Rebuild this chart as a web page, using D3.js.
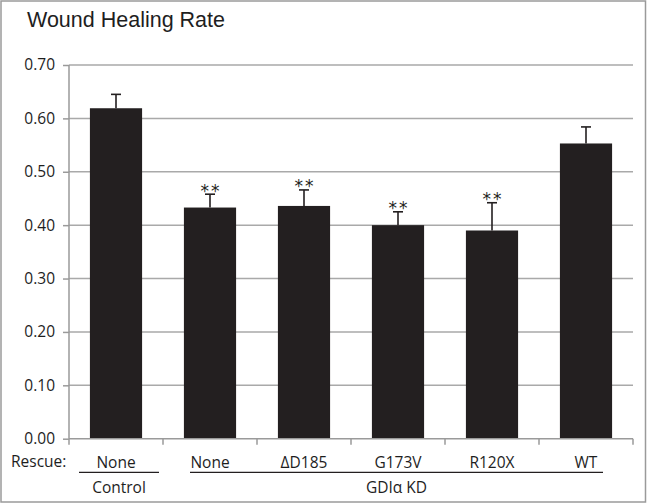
<!DOCTYPE html>
<html>
<head>
<meta charset="utf-8">
<script src="https://cdn.jsdelivr.net/npm/d3@7"></script>
<style>
  html, body { margin: 0; padding: 0; background: #fff; }
  svg { display: block; }
</style>
</head>
<body>
<svg id="chart" width="647" height="504"></svg>
<script>
// ---- data ----
const rescue = ["None", "None", "\u0394D185", "G173V", "R120X", "WT"];
const rates = [0.619, 0.433, 0.436, 0.400, 0.390, 0.553];
const errors = [0.026, 0.025, 0.030, 0.025, 0.052, 0.031];
const marks = ["", "**", "**", "**", "**", ""];
const groupLabels = ["Control", "GDI\u03b1 KD"];
const groupFirst = [0, 1];
const groupLast = [0, 5];
const yTicks = [0, 0.1, 0.2, 0.3, 0.4, 0.5, 0.6, 0.7];
const title = "Wound Healing Rate";
const rowLabel = "Rescue:";

// ---- layout ----
const W = 647, H = 504;
const plot = { left: 69, right: 633, top: 65, bottom: 438.7 };
const groupLineOffsets = [[-37, 43], [-20, 17]];
const labelFont = "'Open Sans', 'Liberation Sans', sans-serif";

const svg = d3.select("#chart");

// outer border
svg.append("rect")
  .attr("x", 1).attr("y", 1).attr("width", W - 2.5).attr("height", H - 3)
  .attr("fill", "#fff").attr("stroke", "#9a9a9a").attr("stroke-width", 1.5);

const x = d3.scaleBand().domain(d3.range(rescue.length))
  .range([plot.left, plot.right]).padding(0);
const barW = x.bandwidth() * 0.555;
const cx = i => x(i) + x.bandwidth() / 2;

const y = d3.scaleLinear().domain([0, 0.7]).range([plot.bottom, plot.top]);

// gridlines
svg.append("g").selectAll("line").data(yTicks.filter(d => d > 0)).join("line")
  .attr("x1", plot.left).attr("x2", plot.right)
  .attr("y1", d => y(d)).attr("y2", d => y(d))
  .attr("stroke", "#a9a9a9").attr("stroke-width", 1.5);

// y axis
const yAxis = d3.axisLeft(y).tickValues(yTicks).tickFormat(d3.format(".2f"))
  .tickSize(6).tickPadding(8);
const gy = svg.append("g").attr("transform", `translate(${plot.left},0)`).call(yAxis);
gy.select(".domain").attr("stroke", "#9a9a9a").attr("stroke-width", 1.5)
  .attr("d", `M0,${plot.top}V${plot.bottom}`);
gy.selectAll(".tick line").attr("stroke", "#9a9a9a").attr("stroke-width", 1.5);
gy.selectAll(".tick text").attr("font-family", labelFont).attr("font-size", 15.5)
  .attr("fill", "#1e1e1e");

// bars
svg.append("g").selectAll("rect").data(rates).join("rect")
  .attr("x", (d, i) => cx(i) - barW / 2)
  .attr("width", barW)
  .attr("y", d => y(d))
  .attr("height", d => y(0) - y(d))
  .attr("fill", "#231f20");

// error bars
const eb = svg.append("g").attr("stroke", "#231f20").attr("stroke-width", 1.6);
rates.forEach((v, i) => {
  eb.append("line").attr("x1", cx(i)).attr("x2", cx(i))
    .attr("y1", y(v)).attr("y2", y(v + errors[i]));
  eb.append("line").attr("x1", cx(i) - 5).attr("x2", cx(i) + 5)
    .attr("y1", y(v + errors[i])).attr("y2", y(v + errors[i]));
});

// significance marks
svg.append("g").selectAll("text").data(marks).join("text")
  .attr("x", (d, i) => cx(i) + 1)
  .attr("y", (d, i) => y(rates[i] + errors[i]) + 2.5)
  .attr("text-anchor", "middle")
  .attr("font-family", "'DejaVu Sans', sans-serif")
  .attr("font-size", 17)
  .attr("letter-spacing", 2)
  .attr("fill", "#231f20")
  .text(d => d);

// x axis
const xAxis = d3.axisBottom(x).tickValues([]).tickSize(0);
const gx = svg.append("g").attr("transform", `translate(0,${plot.bottom})`).call(xAxis);
gx.select(".domain").attr("stroke", "#9a9a9a").attr("stroke-width", 1.5)
  .attr("d", `M${plot.left},0H${plot.right}`);
const boundaries = d3.range(rescue.length).map(i => x(i)).concat([plot.right]);
gx.selectAll("line.bt").data(boundaries).join("line").attr("class", "bt")
  .attr("x1", d => d).attr("x2", d => d).attr("y1", 0).attr("y2", 6)
  .attr("stroke", "#9a9a9a").attr("stroke-width", 1.5);

// category labels
svg.append("g").selectAll("text").data(rescue).join("text")
  .attr("x", (d, i) => cx(i))
  .attr("y", 467.5)
  .attr("text-anchor", "middle")
  .attr("font-family", labelFont).attr("font-size", 15.5)
  .attr("fill", "#1e1e1e")
  .text(d => d);

svg.append("text").attr("x", 11).attr("y", 467)
  .attr("font-family", labelFont).attr("font-size", 15.5).attr("fill", "#1e1e1e")
  .text(rowLabel);

// group lines + labels
groupLabels.forEach((g, k) => {
  const x1 = cx(groupFirst[k]) + groupLineOffsets[k][0];
  const x2 = cx(groupLast[k]) + groupLineOffsets[k][1];
  svg.append("line").attr("x1", x1).attr("x2", x2)
    .attr("y1", 472.3).attr("y2", 472.3)
    .attr("stroke", "#231f20").attr("stroke-width", 1.3);
  svg.append("text").attr("x", (x1 + x2) / 2).attr("y", 492.5)
    .attr("text-anchor", "middle")
    .attr("font-family", labelFont).attr("font-size", 15.5).attr("fill", "#1e1e1e")
    .text(g);
});

// title
svg.append("text").attr("x", 27).attr("y", 27)
  .attr("font-family", "'Liberation Sans', Arial, sans-serif")
  .attr("font-size", 21.5).attr("fill", "#1e1e1e")
  .text(title);
</script>
</body>
</html>
